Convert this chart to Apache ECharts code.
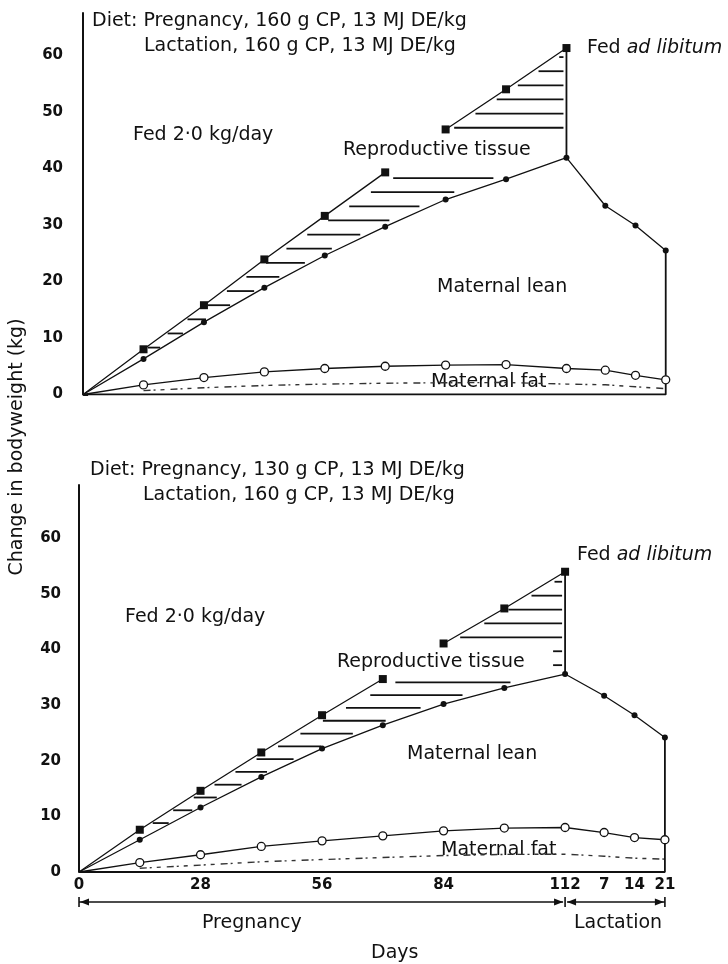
<!DOCTYPE html>
<html>
<head>
<meta charset="utf-8">
<script src="https://cdn.jsdelivr.net/npm/echarts@6/dist/echarts.min.js"></script>
<style>html,body{margin:0;padding:0;background:#fff}#chart{width:728px;height:964px}</style>
</head>
<body>
<div id="chart"></div>
<script>
// days of sampling
var pregDays = [0, 14, 28, 42, 56, 70, 84, 98, 112];
var lactDays = [7, 14, 21];
var yTicks = [0, 10, 20, 30, 40, 50, 60];
var dayTicks = [0, 28, 56, 84, 112];

// diet 160 g CP (upper panel), kg change
var topRepRestricted = [0, 8.0, 15.8, 23.9, 31.6, 39.3];   // fed 2.0 kg/day, days 0-70
var topRepAdLib = [46.9, 54.0, 61.3];                     // fed ad libitum, days 84-112
var topLean = [0, 6.3, 12.8, 18.9, 24.6, 29.7, 34.5, 38.1, 41.9];
var topLeanLact = [33.4, 29.9, 25.5];
var topFat = [0, 1.7, 3.0, 4.0, 4.6, 5.0, 5.2, 5.3, 4.6];
var topFatLact = [4.3, 3.4, 2.6];

// diet 130 g CP (lower panel)
var botRepRestricted = [0, 7.6, 14.6, 21.5, 28.2, 34.7];
var botRepAdLib = [41.1, 47.4, 54.0];
var botLean = [0, 5.8, 11.6, 17.1, 22.2, 26.4, 30.2, 33.1, 35.6];
var botLeanLact = [31.7, 28.2, 24.2];
var botFat = [0, 1.7, 3.1, 4.6, 5.6, 6.5, 7.4, 7.9, 8.0];
var botFatLact = [7.1, 6.2, 5.8];

var FONT = '"DejaVu Sans", sans-serif';
var INK = '#111';
var FS = 19;

// lactation days sit after day 112 on the same day axis
function lactX(d) { return 114 + d; }

function toPts(xs, ys) {
    var out = [];
    for (var i = 0; i < ys.length; i++) out.push([xs[i], ys[i]]);
    return out;
}

// x where a polyline crosses height y (data space)
function xAt(pts, y) {
    for (var i = 0; i < pts.length - 1; i++) {
        var a = pts[i], b = pts[i + 1];
        if (a[1] !== b[1] && (a[1] - y) * (b[1] - y) <= 0) {
            return a[0] + (y - a[1]) * (b[0] - a[0]) / (b[1] - a[1]);
        }
    }
    return null;
}

function levels(lo, hi, step) {
    var a = [];
    for (var v = lo; v <= hi + 0.001; v += step) a.push([0, v]);
    return a;
}

function panel(g, D) {
    var lactPos = lactDays.map(lactX);
    var upperA = toPts(pregDays, D.rep);
    var upperB = toPts(pregDays.slice(6), D.adlib);
    var leanPreg = toPts(pregDays, D.lean);
    var lean = leanPreg.concat(toPts(lactPos, D.leanLact));
    var fat = toPts(pregDays, D.fat).concat(toPts(lactPos, D.fatLact));
    var leanEnd = lean[lean.length - 1];
    var lean112 = D.lean[D.lean.length - 1];

    function first(pts) {
        return pts.map(function (p, i) { return i === 0 ? { value: p, symbol: 'none' } : p; });
    }
    var base = { xAxisIndex: g, yAxisIndex: g, silent: true, animation: false };

    // hatching, reproductive tissue (restricted part)
    var hatchA = Object.assign({}, base, {
        type: 'custom', z: 1,
        data: levels(D.hatchA[0], D.hatchA[1], D.hatchA[2]),
        renderItem: function (params, api) {
            var y = api.value(1);
            var xl = xAt(upperA, y), xr = xAt(leanPreg, y);
            if (xl === null || xr === null) return;
            var pl = api.coord([xl, y]), pr = api.coord([xr, y]);
            var ins = (pr[0] - pl[0]) * 0.12;
            return { type: 'line', shape: { x1: pl[0] + ins, y1: pl[1], x2: pr[0] - ins, y2: pr[1] },
                style: { stroke: INK, lineWidth: 1.8 } };
        }
    });
    // hatching, reproductive tissue (ad libitum part)
    var hatchB = Object.assign({}, base, {
        type: 'custom', z: 1,
        data: levels(D.hatchB[0], D.hatchB[1], D.hatchB[2]),
        renderItem: function (params, api) {
            var y = api.value(1);
            var pr = api.coord([112, y]);
            var xl = xAt(upperB, y);
            var left;
            if (xl === null) left = pr[0] - 12;
            else left = api.coord([xl, y])[0] + 6;
            return { type: 'line', shape: { x1: left, y1: pr[1], x2: pr[0] - 3, y2: pr[1] },
                style: { stroke: INK, lineWidth: 1.8 } };
        }
    });
    // stipple inside maternal fat
    var stipple = Object.assign({}, base, {
        type: 'custom', z: 1,
        data: [[0, 0]],
        renderItem: function (params, api) {
            var pts = fat.slice(1).map(function (p) { return api.coord([p[0], p[1] * 0.4]); });
            return { type: 'polyline', shape: { points: pts },
                style: { stroke: '#333', lineWidth: 1.4, fill: null, lineDash: [7, 3, 2, 5, 4, 6] } };
        }
    });
    var outline = Object.assign({}, base, {
        type: 'line', symbol: 'none', z: 3,
        lineStyle: { color: INK, width: 1.8 },
        data: [[leanEnd[0], leanEnd[1]], [leanEnd[0], 0], [0, 0]]
    });
    var edge = Object.assign({}, base, {
        type: 'line', symbol: 'none', z: 3,
        lineStyle: { color: INK, width: 1.8 },
        data: [[112, D.adlib[D.adlib.length - 1]], [112, lean112]]
    });
    var repA = Object.assign({}, base, {
        type: 'line', symbol: 'rect', symbolSize: 8, z: 4,
        lineStyle: { color: INK, width: 1.3 }, itemStyle: { color: INK },
        data: first(upperA)
    });
    var repB = Object.assign({}, base, {
        type: 'line', symbol: 'rect', symbolSize: 8, z: 4,
        lineStyle: { color: INK, width: 1.3 }, itemStyle: { color: INK },
        data: upperB
    });
    var leanS = Object.assign({}, base, {
        type: 'line', symbol: 'circle', symbolSize: 6, z: 4,
        lineStyle: { color: INK, width: 1.3 }, itemStyle: { color: INK },
        data: first(lean)
    });
    var fatS = Object.assign({}, base, {
        type: 'line', symbol: 'circle', symbolSize: 8, z: 5,
        lineStyle: { color: INK, width: 1.3 },
        itemStyle: { color: '#fff', borderColor: INK, borderWidth: 1.3 },
        data: first(fat)
    });
    return [hatchA, hatchB, stipple, outline, edge, repA, repB, leanS, fatS];
}

var series = panel(0, {
    rep: topRepRestricted, adlib: topRepAdLib, lean: topLean, leanLact: topLeanLact,
    fat: topFat, fatLact: topFatLact, hatchA: [8.3, 38.4, 2.5], hatchB: [47.2, 59.7, 2.5]
}).concat(panel(1, {
    rep: botRepRestricted, adlib: botRepAdLib, lean: botLean, leanLact: botLeanLact,
    fat: botFat, fatLact: botFatLact, hatchA: [8.8, 34.2, 2.3], hatchB: [37.2, 52.2, 2.5]
}));

// pregnancy / lactation arrows under the lower axis
series.push({
    type: 'custom', xAxisIndex: 1, yAxisIndex: 1, silent: true, animation: false, clip: false,
    data: [[0, 0]],
    renderItem: function (params, api) {
        var x0 = api.coord([0, 0])[0], x1 = api.coord([112, 0])[0], x2 = api.coord([lactX(21), 0])[0];
        var y = api.coord([0, 0])[1] + 30;
        var st = { stroke: INK, lineWidth: 1.6 };
        function ln(a, b, c, d) { return { type: 'line', shape: { x1: a, y1: b, x2: c, y2: d }, style: st }; }
        function head(x, dir) {
            return { type: 'polygon', shape: { points: [[x, y], [x - dir * 9, y - 3.5], [x - dir * 9, y + 3.5]] },
                style: { fill: INK } };
        }
        return { type: 'group', children: [
            ln(x0, y, x1 - 2, y), ln(x1 + 2, y, x2, y),
            ln(x0, y - 5, x0, y + 5), ln(x1, y - 5, x1, y + 5), ln(x2, y - 5, x2, y + 5),
            head(x0 + 1, -1), head(x1 - 2, 1), head(x1 + 2, -1), head(x2 - 1, 1)
        ] };
    }
});

function yAx(g, max) {
    return {
        type: 'value', gridIndex: g, min: 0, max: max, interval: 10,
        axisLine: { show: true, lineStyle: { color: INK, width: 2 } },
        axisTick: { show: true, inside: true, length: 5, customValues: [0], lineStyle: { color: INK, width: 2 } },
        axisLabel: { customValues: yTicks, margin: 5, color: INK, fontFamily: FONT, fontSize: 15, fontWeight: 'bold' },
        splitLine: { show: false }
    };
}
function xAx(g, min, showLabels) {
    return {
        type: 'value', gridIndex: g, min: min, max: 140,
        axisLine: { show: false }, axisTick: { show: false }, splitLine: { show: false },
        axisLabel: {
            show: showLabels, margin: 6, color: INK, fontFamily: FONT, fontSize: 15, fontWeight: 'bold',
            customValues: dayTicks.concat(lactDays.map(lactX)),
            formatter: function (v) { return v > 112 ? String(Math.round(v - lactX(0))) : String(v); }
        }
    };
}

function txt(x, y, s, size, opt) {
    var el = { type: 'text', x: x, y: y, silent: true,
        style: Object.assign({ text: s, fill: INK, font: size + 'px ' + FONT, align: 'left', verticalAlign: 'middle' }, opt || {}) };
    return el;
}
function adlib(x, y) {
    return { type: 'text', x: x, y: y, silent: true, style: {
        text: '{n|Fed }{i|ad libitum}', align: 'left', verticalAlign: 'middle', fill: INK,
        rich: { n: { fontFamily: FONT, fontSize: FS, color: INK },
                i: { fontFamily: FONT, fontSize: FS, fontStyle: 'italic', color: INK } } } };
}

var chart = echarts.init(document.getElementById('chart'));
chart.setOption({
    backgroundColor: '#fff',
    animation: false,
    grid: [
        { left: 68, top: 13, right: 40.7, height: 381.5, outerBoundsMode: 'none' },
        { left: 66, top: 485, right: 41.4, height: 387, outerBoundsMode: 'none' }
    ],
    xAxis: [xAx(0, -3.5, false), xAx(1, -3, true)],
    yAxis: [yAx(0, 67.5), yAx(1, 69.6)],
    series: series,
    graphic: [
        txt(92, 21, 'Diet: Pregnancy, 160 g CP, 13 MJ DE/kg', FS),
        txt(144, 46, 'Lactation, 160 g CP, 13 MJ DE/kg', FS),
        txt(133, 135, 'Fed 2·0 kg/day', FS),
        txt(343, 150, 'Reproductive tissue', FS),
        adlib(587, 48),
        txt(437, 287, 'Maternal lean', FS),
        txt(428, 382, 'Maternal fat', FS, { backgroundColor: '#fff', padding: [0, 3] }),

        txt(90, 470, 'Diet: Pregnancy, 130 g CP, 13 MJ DE/kg', FS),
        txt(143, 495, 'Lactation, 160 g CP, 13 MJ DE/kg', FS),
        txt(125, 617, 'Fed 2·0 kg/day', FS),
        txt(337, 662, 'Reproductive tissue', FS),
        adlib(577, 555),
        txt(407, 754, 'Maternal lean', FS),
        txt(438, 850, 'Maternal fat', FS, { backgroundColor: '#fff', padding: [0, 3] }),

        txt(202, 923, 'Pregnancy', 19),
        txt(574, 923, 'Lactation', 19),
        txt(371, 953, 'Days', 19),
        { type: 'text', x: 17, y: 447, rotation: Math.PI / 2, silent: true,
          style: { text: 'Change in bodyweight (kg)', fill: INK, font: '19px ' + FONT, align: 'center', verticalAlign: 'middle' } }
    ]
});
</script>
</body>
</html>
